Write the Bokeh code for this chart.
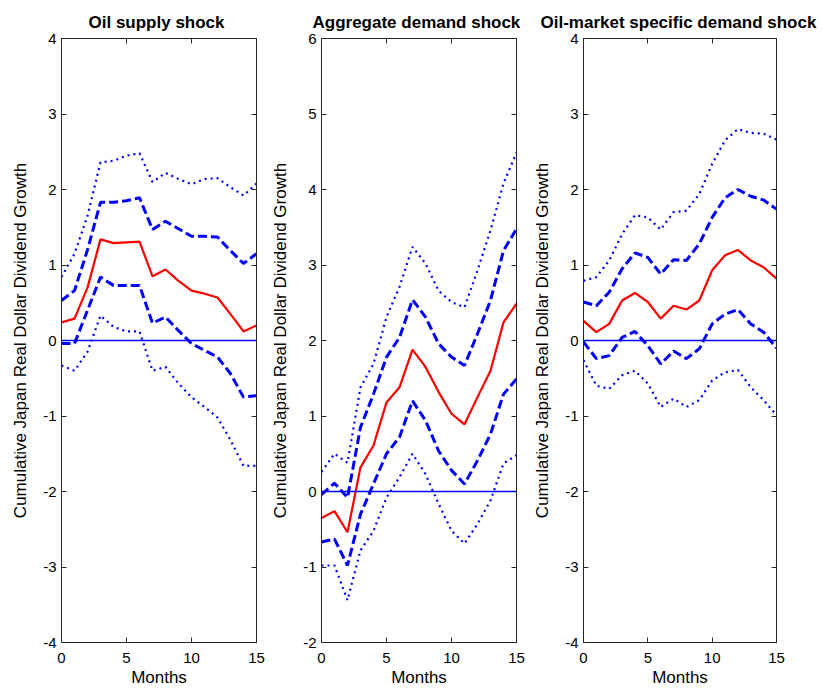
from bokeh.plotting import figure
from bokeh.models import Range1d, LinearAxis, FixedTicker, Span
from bokeh.layouts import row
from bokeh.embed import file_html
from bokeh.resources import INLINE

months = list(range(16))

titles = ["Oil supply shock", "Aggregate demand shock", "Oil-market specific demand shock"]
y_label = "Cumulative Japan Real Dollar Dividend Growth"
x_label = "Months"
x_ticks = [0, 5, 10, 15]
zero_level = 0

# Panel 1: oil supply shock
supply_irf = [0.24, 0.29, 0.70, 1.34, 1.29, 1.30, 1.31, 0.85, 0.94, 0.79, 0.66, 0.62, 0.57, 0.35, 0.12, 0.20]
supply_up1 = [0.53, 0.66, 1.20, 1.83, 1.83, 1.85, 1.89, 1.47, 1.58, 1.48, 1.38, 1.38, 1.37, 1.19, 1.02, 1.15]
supply_lo1 = [-0.04, -0.04, 0.40, 0.84, 0.73, 0.73, 0.73, 0.23, 0.31, 0.13, -0.04, -0.13, -0.22, -0.44, -0.75, -0.73]
supply_up2 = [0.84, 1.15, 1.65, 2.36, 2.38, 2.45, 2.48, 2.10, 2.22, 2.14, 2.07, 2.14, 2.15, 2.03, 1.92, 2.08]
supply_lo2 = [-0.33, -0.40, -0.15, 0.33, 0.18, 0.12, 0.12, -0.40, -0.35, -0.57, -0.75, -0.88, -1.02, -1.32, -1.66, -1.66]

# Panel 2: aggregate demand shock
demand_irf = [-0.35, -0.26, -0.54, 0.32, 0.61, 1.18, 1.38, 1.88, 1.65, 1.32, 1.03, 0.89, 1.25, 1.60, 2.24, 2.49]
demand_up1 = [-0.04, 0.11, -0.08, 0.85, 1.29, 1.78, 2.04, 2.54, 2.31, 1.96, 1.78, 1.67, 2.09, 2.53, 3.19, 3.48]
demand_lo1 = [-0.67, -0.63, -0.98, -0.30, 0.10, 0.50, 0.72, 1.20, 0.94, 0.54, 0.28, 0.10, 0.41, 0.76, 1.29, 1.49]
demand_up2 = [0.26, 0.50, 0.38, 1.38, 1.69, 2.31, 2.71, 3.24, 3.02, 2.66, 2.51, 2.44, 2.93, 3.46, 4.08, 4.49]
demand_lo2 = [-0.98, -0.98, -1.44, -0.78, -0.52, -0.08, 0.19, 0.50, 0.23, -0.16, -0.52, -0.69, -0.43, -0.12, 0.37, 0.48]

# Panel 3: oil-market specific demand shock
specific_irf = [0.26, 0.11, 0.22, 0.53, 0.63, 0.51, 0.29, 0.46, 0.41, 0.53, 0.93, 1.13, 1.20, 1.06, 0.97, 0.82]
specific_up1 = [0.51, 0.46, 0.64, 0.95, 1.16, 1.10, 0.88, 1.07, 1.06, 1.28, 1.63, 1.89, 2.00, 1.91, 1.86, 1.74]
specific_lo1 = [-0.02, -0.24, -0.20, 0.04, 0.12, -0.07, -0.31, -0.14, -0.24, -0.11, 0.22, 0.35, 0.41, 0.22, 0.11, -0.10]
specific_up2 = [0.79, 0.84, 1.06, 1.41, 1.66, 1.63, 1.47, 1.70, 1.72, 1.94, 2.34, 2.65, 2.80, 2.75, 2.74, 2.66]
specific_lo2 = [-0.26, -0.60, -0.64, -0.46, -0.40, -0.57, -0.88, -0.77, -0.88, -0.79, -0.53, -0.42, -0.39, -0.62, -0.79, -0.99]

y_limits = [(-4, 4), (-2, 6), (-4, 4)]
panels_data = [
    (supply_irf, supply_up1, supply_lo1, supply_up2, supply_lo2),
    (demand_irf, demand_up1, demand_lo1, demand_up2, demand_lo2),
    (specific_irf, specific_up1, specific_lo1, specific_up2, specific_lo2),
]

FONT = "Liberation Sans"
AX_COLOR = "#262626"
layout_cfg = [
    dict(width=268, left=61, right=12, title_offset=27),
    dict(width=262, left=53, right=14, title_offset=-9),
    dict(width=292, left=51, right=46, title_offset=-43),
]


def style_axis(ax, show_labels=True, standoff=5):
    ax.major_tick_in = 5
    ax.major_tick_out = 0
    ax.minor_tick_line_color = None
    ax.minor_tick_in = 0
    ax.minor_tick_out = 0
    ax.axis_line_color = AX_COLOR
    ax.major_tick_line_color = AX_COLOR
    ax.major_label_text_font = FONT
    if show_labels:
        ax.major_label_text_color = "black"
        ax.major_label_text_font_size = "15px"
        ax.major_label_standoff = standoff
    else:
        # tick marks only: labels are not drawn at all
        ax.major_label_text_color = None
        ax.major_label_text_font_size = "1px"
        ax.major_label_standoff = 0


figs = []
for i in range(3):
    cfg = layout_cfg[i]
    ylo, yhi = y_limits[i]
    p = figure(
        width=cfg["width"], height=689,
        x_range=Range1d(0, 15), y_range=Range1d(ylo, yhi),
        output_backend="svg", toolbar_location=None,
        min_border_left=cfg["left"], min_border_right=cfg["right"],
        min_border_top=38, min_border_bottom=10,
    )
    p.title.text = titles[i]
    p.title.align = "left"
    p.title.offset = cfg["title_offset"]
    p.title.text_font = FONT
    p.title.text_font_style = "bold"
    p.title.text_font_size = "17px"
    p.title.text_color = "black"
    p.title.standoff = 14
    p.grid.visible = False
    p.outline_line_color = AX_COLOR
    p.outline_line_width = 1
    p.background_fill_color = "white"
    p.border_fill_color = "white"

    yt = list(range(ylo, yhi + 1))
    p.xaxis.ticker = FixedTicker(ticks=x_ticks)
    p.yaxis.ticker = FixedTicker(ticks=yt)
    style_axis(p.xaxis[0], standoff=10)
    style_axis(p.yaxis[0], standoff=5)
    p.xaxis.major_label_overrides = {t: str(t) for t in x_ticks}
    p.yaxis.major_label_overrides = {t: str(t) for t in yt}
    p.xaxis.axis_label = x_label
    p.yaxis.axis_label = y_label
    for ax in (p.xaxis[0], p.yaxis[0]):
        ax.axis_label_text_font = FONT
        ax.axis_label_text_font_size = "17px"
        ax.axis_label_text_font_style = "normal"
        ax.axis_label_text_color = "black"
    p.xaxis.axis_label_standoff = 2
    p.yaxis.axis_label_standoff = 10

    top_ax = LinearAxis(ticker=FixedTicker(ticks=x_ticks))
    style_axis(top_ax, show_labels=False)
    p.add_layout(top_ax, "above")
    right_ax = LinearAxis(ticker=FixedTicker(ticks=yt))
    style_axis(right_ax, show_labels=False)
    p.add_layout(right_ax, "right")

    p.add_layout(Span(location=zero_level, dimension="width",
                      line_color="#0000ff", line_width=1.3))

    irf, up1, lo1, up2, lo2 = panels_data[i]
    for s in (up2, lo2):
        p.line(months, s, line_color="#0000ff", line_width=2.2, line_dash="2 4")
    for s in (up1, lo1):
        p.line(months, s, line_color="#0000ff", line_width=3, line_dash="9 4")
    p.line(months, irf, line_color="#ff0000", line_width=2.2)
    figs.append(p)

layout = row(*figs, spacing=0)
open("out.html", "w").write(file_html(layout, INLINE))
